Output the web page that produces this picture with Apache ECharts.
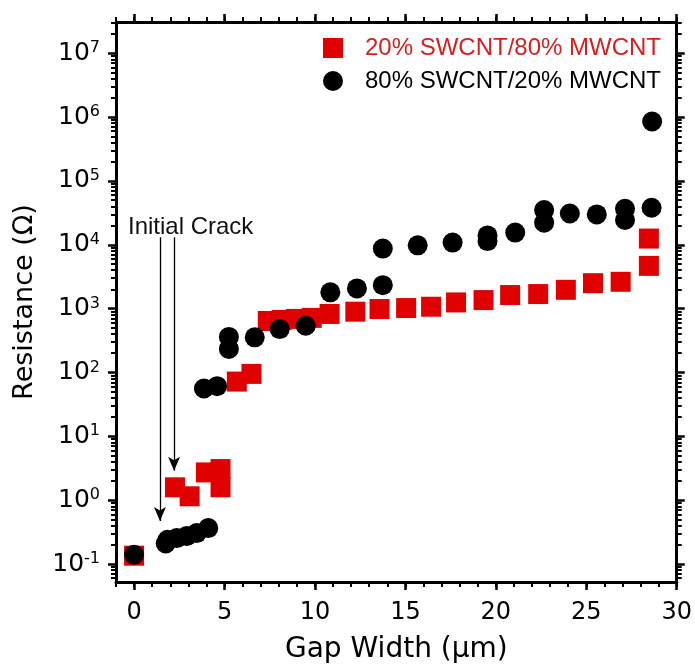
<!DOCTYPE html>
<html>
<head>
<meta charset="utf-8">
<script src="https://cdn.jsdelivr.net/npm/echarts@6/dist/echarts.min.js"></script>
<style>
  html, body { margin: 0; padding: 0; background: #fff; }
  #chart { width: 695px; height: 669px; }
</style>
</head>
<body>
<div id="chart"></div>
<script>
// --- data ---
const redName = "20% SWCNT/80% MWCNT";
const redX = [0, 2.26, 3.07, 3.97, 4.78, 4.78, 5.68, 6.49, 7.39, 8.16, 8.94, 9.82, 10.81,
  12.23, 13.57, 15.04, 16.42, 17.8, 19.32, 20.79, 22.34, 23.87, 25.37, 26.9, 28.46, 28.46];
const redY = [0.135, 1.59, 1.15, 2.72, 3.07, 1.59, 72, 95, 640, 665, 690, 716, 825,
  895, 985, 1020, 1070, 1250, 1360, 1630, 1690, 1970, 2500, 2630, 12500, 4670];

const blackName = "80% SWCNT/20% MWCNT";
const blackX = [0, 1.75, 1.85, 2.36, 2.91, 3.46, 4.1, 3.86, 4.59, 5.24, 5.24, 6.67, 8.05,
  9.49, 10.85, 12.32, 13.75, 13.75, 15.68, 17.61, 19.54, 19.54, 21.07, 22.67, 22.67,
  24.09, 25.58, 27.14, 27.14, 28.61, 28.64];
const blackY = [0.14, 0.21, 0.24, 0.255, 0.274, 0.305, 0.365, 56, 61, 360, 234, 355, 478,
  540, 1800, 2070, 2330, 8700, 9800, 10800, 14000, 11400, 15500, 34900, 22200,
  30900, 29900, 36700, 24400, 38000, 853000];

// axis ticks
const xTicks = [0, 5, 10, 15, 20, 25, 30];
const xMinorTicks = [-1, 0, 1, 2, 3, 4, 5, 6, 7, 8, 9, 10, 11, 12, 13, 14, 15, 16, 17, 18, 19,
  20, 21, 22, 23, 24, 25, 26, 27, 28, 29, 30];
const yTicks = [0.1, 1, 10, 100, 1000, 1e4, 1e5, 1e6, 1e7];
const yMinorTicks = [];
for (let k = -2; k <= 7; k++) {
  for (let d = 2; d <= 9; d++) yMinorTicks.push(Number((d * Math.pow(10, k)).toPrecision(3)));
}

// "Initial Crack" arrows: [x, top, tip]
const crackArrows = [[1.43, 13100, 0.47], [2.21, 13100, 2.9]];

const X_MIN = -1, X_MAX = 30;
const Y_MIN = 0.0523, Y_MAX = 3.08e7;

const RED = "#e00000";
const FONT = "DejaVu Sans";

const chart = echarts.init(document.getElementById("chart"));

function xAxisDef(position, ticks, len, width, labels, withLine) {
  return {
    type: "value", position, min: X_MIN, max: X_MAX,
    axisLine: { show: withLine, onZero: false, lineStyle: { color: "#000", width: 3 } },
    axisTick: { show: true, inside: false, length: len, customValues: ticks,
      lineStyle: { color: "#000", width: width } },
    axisLabel: { show: labels, customValues: ticks, margin: 19, fontFamily: FONT,
      fontSize: 24, color: "#000" },
    splitLine: { show: false },
  };
}

function yAxisDef(position, ticks, len, width, labels, withLine) {
  return {
    type: "log", logBase: 10, position, min: Y_MIN, max: Y_MAX,
    axisLine: { show: withLine, onZero: false, lineStyle: { color: "#000", width: 3 } },
    axisTick: { show: true, inside: false, length: len, customValues: ticks,
      lineStyle: { color: "#000", width: width } },
    axisLabel: {
      show: labels, customValues: ticks, margin: 16,
      formatter: (v) => "{b|10}{s|" + Math.round(Math.log10(v)) + "}",
      rich: {
        b: { fontFamily: FONT, fontSize: 25, color: "#000", lineHeight: 26 },
        s: { fontFamily: FONT, fontSize: 16, color: "#000", lineHeight: 14, verticalAlign: "top" },
      },
    },
    splitLine: { show: false },
    minorSplitLine: { show: false },
  };
}

const xMain = xAxisDef("bottom", xTicks, 8, 2.5, true, true);
xMain.name = "Gap Width (\u03bcm)";
xMain.nameLocation = "middle";
xMain.nameGap = 54;
xMain.nameTextStyle = { fontFamily: FONT, fontSize: 28, color: "#000" };

const yMain = yAxisDef("left", yTicks, 8, 2.5, true, true);
yMain.name = "Resistance (\u03a9)";
yMain.nameLocation = "middle";
yMain.nameGap = 78;
yMain.nameTextStyle = { fontFamily: FONT, fontSize: 27, color: "#000" };

chart.setOption({
  animation: false,
  backgroundColor: "#fff",
  grid: { left: 116, right: 17, top: 22, bottom: 85 },
  legend: {
    orient: "vertical", left: 318, top: 31,
    itemWidth: 20, itemHeight: 20, itemGap: 9,
    selectedMode: false,
    textStyle: { fontFamily: "Liberation Sans", fontSize: 24, lineHeight: 20, padding: [0, 0, 0, 17] },
    data: [
      { name: redName, icon: "rect", textStyle: { color: "#d81e1e" } },
      { name: blackName, icon: "circle", textStyle: { color: "#000" } },
    ],
  },
  xAxis: [
    xMain,
    xAxisDef("bottom", xMinorTicks, 5, 2, false, false),
    xAxisDef("top", xTicks, 8, 2.5, false, true),
    xAxisDef("top", xMinorTicks, 5, 2, false, false),
  ],
  yAxis: [
    yMain,
    yAxisDef("left", yMinorTicks, 5, 2, false, false),
    yAxisDef("right", yTicks, 8, 2.5, false, true),
    yAxisDef("right", yMinorTicks, 5, 2, false, false),
  ],
  graphic: [
    {
      type: "text", left: 128, top: 215,
      style: { text: "Initial Crack", fill: "#111", font: '24px "Liberation Sans"' },
    },
  ],
  series: [
    {
      name: redName, type: "scatter", xAxisIndex: 0, yAxisIndex: 0,
      symbol: "rect", symbolSize: 20,
      itemStyle: { color: RED, opacity: 1 },
      data: redX.map((x, i) => [x, redY[i]]),
    },
    {
      name: blackName, type: "scatter", xAxisIndex: 0, yAxisIndex: 0,
      symbol: "circle", symbolSize: 20,
      itemStyle: { color: "#000", opacity: 1 },
      data: blackX.map((x, i) => [x, blackY[i]]),
      markLine: {
        silent: true, animation: false,
        symbol: ["none", "arrow"], symbolSize: [9, 14],
        lineStyle: { color: "#000", width: 1.3, type: "solid" },
        label: { show: false },
        emphasis: { disabled: true },
        data: crackArrows.map((a) => [{ coord: [a[0], a[1]] }, { coord: [a[0], a[2]] }]),
      },
    },
  ],
});
</script>
</body>
</html>
